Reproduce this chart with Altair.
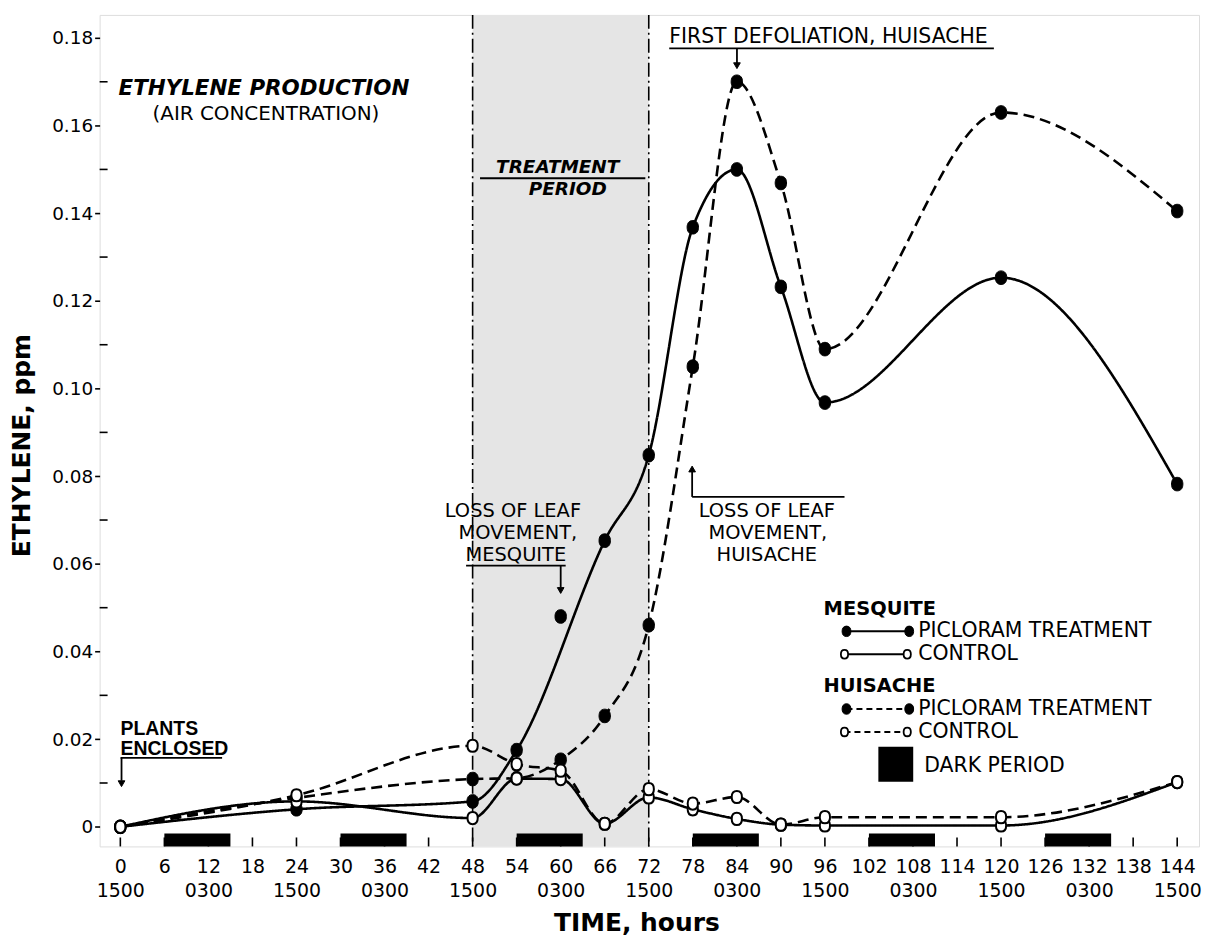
import altair as alt
import pandas as pd

# ---------------- data ----------------
hours = [0, 24, 48, 54, 60, 66, 72, 78, 84, 90, 96, 120, 144]
mesquite_picloram = [0.0, 0.0040, 0.0058, 0.0175, 0.0480, 0.0653, 0.0848, 0.1368, 0.1500, 0.1232, 0.0968, 0.1253, 0.0782]
mesquite_control = [0.0, 0.0058, 0.0020, 0.0110, 0.0109, 0.0007, 0.0067, 0.0040, 0.0018, 0.0005, 0.0003, 0.0003, 0.0102]
huisache_picloram = [0.0, 0.0066, 0.0109, 0.0111, 0.0153, 0.0253, 0.0460, 0.1050, 0.1700, 0.1469, 0.1090, 0.1630, 0.1405]
huisache_control = [0.0, 0.0072, 0.0185, 0.0143, 0.0128, 0.0007, 0.0086, 0.0053, 0.0068, 0.0005, 0.0022, 0.0022, 0.0102]
# points the hand-drawn curve does not pass through (marked by the annotation arrow)
off_curve = [("MP", 60)]

dark_start = [6, 30, 54, 78, 102, 126]
dark_end = [15, 39, 63, 87, 111, 135]
treatment_start = [48]
treatment_end = [72]
x_tick_hours = list(range(0, 145, 6))
y_tick_values = [0, 0.02, 0.04, 0.06, 0.08, 0.10, 0.12, 0.14, 0.16, 0.18]
y_minor_values = [0.01, 0.03, 0.05, 0.07, 0.09, 0.11, 0.13, 0.15, 0.17]

# ---------------- layout (page pixels -> data space) ----------------
X0, PXH = 120.8, 7.37      # page x of hour 0, pixels per hour
Y0, PXV = 828.3, 4401.0    # page y of 0 ppm, pixels per ppm
LEFT, TOP, W, H = 100, 13, 1104, 835


def hx(px):
    return (px - X0) / PXH


def vy(py):
    return (Y0 - py) / PXV


XDOM = [hx(LEFT), hx(LEFT + W)]
YDOM = [vy(TOP + H), vy(TOP)]
FONT = "DejaVu Sans"

xs = alt.Scale(domain=XDOM, nice=False, zero=False)
ys = alt.Scale(domain=YDOM, nice=False, zero=False)

xaxis = alt.Axis(
    values=x_tick_hours, ticks=False, domain=False, grid=False,
    labelExpr="[datum.label, datum.value % 24 == 0 ? '1500' : (datum.value % 24 == 12 ? '0300' : '')]",
    labelFontSize=19, labelLineHeight=24, labelPadding=11, labelFont=FONT,
    labelColor="black", labelAngle=0, labelOverlap=False, labelFlush=False,
    title="TIME, hours", titleFontSize=25, titleFontWeight="bold", titleFont=FONT,
    titleColor="black", titleX=539, titleY=76, titleAlign="center", titleBaseline="middle",
)
yaxis = alt.Axis(
    values=y_tick_values, tickSize=5, tickWidth=1.6, tickColor="black",
    domain=False, grid=False,
    labelExpr="datum.value == 0 ? '0' : format(datum.value, '.2f')",
    labelFontSize=18.5, labelPadding=2, labelFont=FONT, labelColor="black",
    title="ETHYLENE, ppm", titleFontSize=25, titleFontWeight="bold", titleFont=FONT,
    titleColor="black", titleAngle=270, titleX=-78, titleY=432,
    titleAlign="center", titleBaseline="middle",
)


def X(f):
    return alt.X(f, type="quantitative", scale=xs, axis=xaxis)


def Y(f):
    return alt.Y(f, type="quantitative", scale=ys, axis=yaxis)


# ---------------- series table ----------------
rows = []
for name, species, treat, vals in [
    ("MP", "Mesquite", "Picloram", mesquite_picloram),
    ("MC", "Mesquite", "Control", mesquite_control),
    ("HP", "Huisache", "Picloram", huisache_picloram),
    ("HC", "Huisache", "Control", huisache_control),
]:
    for h, v in zip(hours, vals):
        rows.append({"h": h, "v": v, "series": name, "species": species, "treat": treat,
                     "on_curve": (name, h) not in off_curve})
df = pd.DataFrame(rows)

ELLIPSE = ("M0,-1 C0.6,-1 0.84,-0.55 0.84,0 C0.84,0.55 0.6,1 0,1 "
           "C-0.6,1 -0.84,0.55 -0.84,0 C-0.84,-0.55 -0.6,-1 0,-1 Z")

# ---------------- layers ----------------
shade_df = pd.DataFrame({"h": treatment_start, "h2": treatment_end,
                         "v": [YDOM[1]], "v2": [YDOM[0]]})
shade = alt.Chart(shade_df).mark_rect(color="#e5e5e5").encode(
    x=X("h"), x2="h2", y=Y("v"), y2="v2")

period_lines_df = pd.DataFrame({"h": treatment_start + treatment_end,
                                "v": [YDOM[1]] * 2, "v2": [YDOM[0]] * 2})
period_lines = alt.Chart(period_lines_df).mark_rule(
    color="black", strokeWidth=1.6, strokeDash=[14, 4, 2, 4]).encode(
    x=X("h"), y=Y("v"), y2="v2")

dark_df = pd.DataFrame({"h": dark_start, "h2": dark_end,
                        "v": [vy(835)] * len(dark_start), "v2": [YDOM[0]] * len(dark_start)})
dark = alt.Chart(dark_df).mark_rect(color="black").encode(
    x=X("h"), x2="h2", y=Y("v"), y2="v2")

xt_df = pd.DataFrame({"h": x_tick_hours, "v": [YDOM[0]] * len(x_tick_hours),
                      "v2": [vy(TOP + H - 9)] * len(x_tick_hours)})
xticks = alt.Chart(xt_df).mark_rule(color="black", strokeWidth=1.6).encode(
    x=X("h"), y=Y("v"), y2="v2")

yt_df = pd.DataFrame({"v": y_minor_values, "h": [XDOM[0]] * len(y_minor_values),
                      "h2": [hx(LEFT + 8)] * len(y_minor_values)})
yticks = alt.Chart(yt_df).mark_rule(color="black", strokeWidth=1.6).encode(
    y=Y("v"), x=X("h"), x2="h2")

lines = alt.Chart(df).transform_filter(alt.datum.on_curve).mark_line(
    interpolate="monotone", color="black", strokeWidth=2.6).encode(
    x=X("h"), y=Y("v"), detail="series:N",
    strokeDash=alt.StrokeDash("species:N", legend=None,
                              scale=alt.Scale(domain=["Mesquite", "Huisache"],
                                              range=[[1, 0], [11, 6]])))

filled_pts = alt.Chart(df).transform_filter(alt.datum.treat == "Picloram").mark_point(
    shape=ELLIPSE, filled=True, fill="black", stroke="black", strokeWidth=1, size=185, opacity=1).encode(
    x=X("h"), y=Y("v"))
open_pts = alt.Chart(df).transform_filter(alt.datum.treat == "Control").mark_point(
    shape=ELLIPSE, filled=True, fill="white", stroke="black", strokeWidth=2, size=150, opacity=1).encode(
    x=X("h"), y=Y("v"))


# ---------------- annotations ----------------
def text_layer(items, size, weight="normal", style="normal", align="left", font=FONT):
    d = pd.DataFrame({"h": [hx(i[1]) for i in items], "v": [vy(i[2]) for i in items],
                      "t": [i[0] for i in items]})
    return alt.Chart(d).mark_text(align=align, baseline="middle", fontSize=size,
                                  fontWeight=weight, fontStyle=style, font=font,
                                  color="black").encode(x=X("h"), y=Y("v"), text="t:N")


def rule_layer(segs, width=1.8, dash=None):
    d = pd.DataFrame({"h": [hx(s[0]) for s in segs], "v": [vy(s[1]) for s in segs],
                      "h2": [hx(s[2]) for s in segs], "v2": [vy(s[3]) for s in segs]})
    kw = dict(color="black", strokeWidth=width)
    if dash:
        kw["strokeDash"] = dash
    return alt.Chart(d).mark_rule(**kw).encode(x=X("h"), y=Y("v"), x2="h2", y2="v2")


def point_layer(pts, shape, size, fill="black", stroke="black", sw=1):
    d = pd.DataFrame({"h": [hx(p[0]) for p in pts], "v": [vy(p[1]) for p in pts]})
    return alt.Chart(d).mark_point(shape=shape, filled=True, fill=fill, stroke=stroke,
                                   strokeWidth=sw, size=size, opacity=1).encode(x=X("h"), y=Y("v"))


title_bold = text_layer([("ETHYLENE PRODUCTION", 119, 87)], 21.5, "bold", "italic")
title_sub = text_layer([("(AIR CONCENTRATION)", 267, 113)], 20, align="center")
treat_txt = text_layer([("TREATMENT", 560, 166), ("PERIOD", 570, 188)], 18.5, "bold", "italic", "center")
defol_txt = text_layer([("FIRST DEFOLIATION, HUISACHE", 672, 35)], 20.5)
loss_txt = text_layer([("LOSS OF LEAF", 515, 511), ("MOVEMENT,", 520, 533), ("MESQUITE", 518, 555),
                       ("LOSS OF LEAF", 770, 511), ("MOVEMENT,", 771, 533), ("HUISACHE", 770, 555)],
                      19.5, align="center")
plants_txt = text_layer([("PLANTS", 121, 730), ("ENCLOSED", 121, 750)], 19.5, "bold",
                        font="Liberation Sans")

ann_rules = rule_layer([
    (482, 177, 648, 177),      # treatment period bar
    (672, 46.5, 998, 46.5),    # first defoliation underline
    (740, 46.5, 740, 62),      # arrow stem
    (468, 566, 568, 566),      # mesquite underline
    (563, 566, 563, 588),      # arrow stem
    (695, 497, 848, 497),      # huisache bracket
    (695, 497, 695, 472),      # arrow stem
    (121, 759, 223, 759),      # enclosed underline
    (122, 759, 122, 782),      # arrow stem
], width=1.8)
heads_down = point_layer([(740, 64), (563, 591), (122, 785)], "triangle-down", 45)
heads_up = point_layer([(695, 469)], "triangle-up", 45)

# ---------------- legend ----------------
leg_bold = text_layer([("MESQUITE", 827, 610), ("HUISACHE", 827, 687)], 19.5, "bold")
leg_txt = text_layer([("PICLORAM TREATMENT", 922, 632), ("CONTROL", 922, 655),
                      ("PICLORAM TREATMENT", 922, 710), ("CONTROL", 922, 733),
                      ("DARK PERIOD", 928, 767)], 20.5)
leg_solid = rule_layer([(850, 632, 913, 632), (848, 655, 911, 655)], width=2)
leg_dash = rule_layer([(850, 710, 913, 710), (848, 733, 911, 733)], width=2, dash=[6, 4])
leg_filled = point_layer([(850, 632), (913, 632), (850, 710), (913, 710)], ELLIPSE, 110)
leg_open = point_layer([(848, 655), (911, 655), (848, 733), (911, 733)], ELLIPSE, 75,
                       fill="white", sw=1.8)
sq_df = pd.DataFrame({"h": [hx(882)], "h2": [hx(917)], "v": [vy(748)], "v2": [vy(783)]})
leg_square = alt.Chart(sq_df).mark_rect(color="black").encode(
    x=X("h"), x2="h2", y=Y("v"), y2="v2")

chart = alt.layer(
    shade, dark, period_lines, xticks, yticks, lines, filled_pts, open_pts,
    title_bold, title_sub, treat_txt, defol_txt, loss_txt, plants_txt,
    ann_rules, heads_down, heads_up,
    leg_bold, leg_txt, leg_solid, leg_dash, leg_filled, leg_open, leg_square,
).properties(
    width=W, height=H,
    autosize=alt.AutoSizeParams(type="none"),
    padding={"left": 92, "top": 5, "right": 5, "bottom": 90},
    background="white",
).configure_view(stroke="black", strokeWidth=2.2).configure(font=FONT)

chart.save("out.html", embed_options={"renderer": "svg", "actions": False})
